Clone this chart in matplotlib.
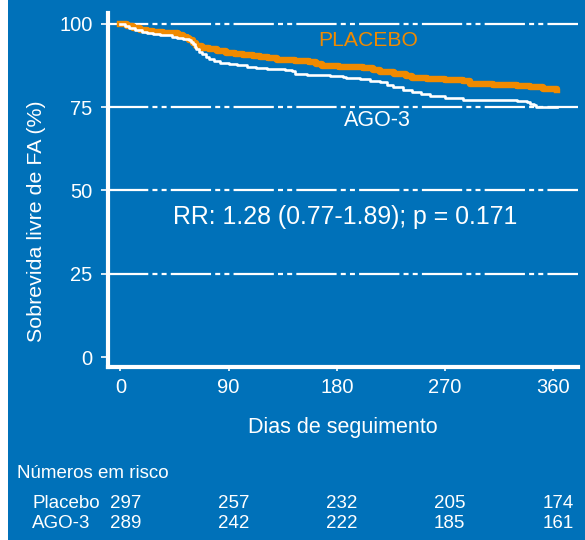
import matplotlib
matplotlib.use("Agg")
import matplotlib.pyplot as plt
from matplotlib.patches import Rectangle
from matplotlib.transforms import blended_transform_factory

plt.rcParams['font.family'] = ['Liberation Sans', 'DejaVu Sans']
plt.rcParams['lines.scale_dashes'] = False

BLUE = '#0071b9'
ORANGE = '#f08a00'

# curvas de Kaplan-Meier
placebo_days = [0, 5, 10, 16, 22, 27, 35, 41, 48, 52,
                55, 57, 60, 63, 68, 74, 80, 88, 95, 102,
                110, 116, 123, 130, 145, 157, 163, 168, 182, 195,
                202, 210, 216, 228, 238, 243, 255, 270, 285, 291,
                310, 330, 341, 352, 363]
placebo_surv = [100, 99.4, 98.8, 98.2, 97.9, 97.7, 97.4, 97.2, 96.8, 96.2,
                95.8, 95.2, 94.4, 93.4, 92.9, 92.4, 91.9, 91.4, 91.0, 90.6,
                90.4, 90.2, 89.7, 89.2, 88.9, 88.6, 88.0, 87.4, 87.2, 87.0,
                86.9, 86.3, 85.5, 85.0, 84.5, 83.8, 83.5, 83.2, 82.8, 82.0,
                81.8, 81.5, 81.0, 80.6, 80.3]

ago_days = [0, 4, 7, 12, 18, 22, 27, 33, 38, 43,
            47, 52, 57, 59, 60, 62, 63, 65, 68, 71,
            74, 78, 83, 90, 97, 105, 113, 122, 130, 137,
            143, 145, 155, 166, 174, 185, 188, 199, 208, 216,
            222, 227, 235, 243, 250, 258, 270, 285, 300, 330,
            338, 341, 344, 346, 363]
ago_surv = [100, 99.4, 98.9, 98.2, 97.6, 97.3, 96.9, 96.7, 96.6, 96.2,
            95.9, 95.5, 95.2, 94.6, 93.9, 93.2, 92.4, 91.6, 90.9, 90.1,
            89.4, 88.9, 88.4, 88.0, 87.6, 87.2, 86.9, 86.6, 86.4, 86.1,
            85.9, 84.9, 84.8, 84.6, 84.4, 84.2, 83.9, 83.6, 83.0, 82.5,
            81.8, 81.0, 80.3, 79.5, 79.0, 78.5, 77.8, 77.2, 77.1, 76.9,
            76.5, 76.1, 75.6, 75.1, 75.1]

x_ticks = [0, 90, 180, 270, 360]
y_ticks = [0, 25, 50, 75, 100]
grid_levels = [25, 50, 75, 100]

# numeros em risco
risk_labels = ['Placebo', 'AGO-3']
risk_placebo = [297, 257, 232, 205, 174]
risk_ago = [289, 242, 222, 185, 161]

fig = plt.figure(figsize=(5.85, 5.4), dpi=100)
fig.patch.set_facecolor('white')
fig.add_artist(Rectangle((8 / 585, 0), 1, 1, transform=fig.transFigure,
                         facecolor=BLUE, edgecolor='none', zorder=-10))

ax = fig.add_axes([108 / 585, 1 - 367 / 540, (578 - 108) / 585, (367 - 13) / 540])
ax.set_facecolor('none')

dash = (0, (29, 3, 3.6, 3, 3.6, 3))
for g in grid_levels:
    ax.axhline(g, color='white', lw=1.6, linestyle=dash, zorder=1)

ax.step(placebo_days, placebo_surv, where='post', color=ORANGE, lw=4.6, zorder=3)
ax.step(ago_days, ago_surv, where='post', color='white', lw=1.9, zorder=4)

ax.set_xlim(-10.4, 380.8)
ax.set_ylim(-3.0, 103.3)
ax.set_xticks(x_ticks)
ax.set_yticks(y_ticks)

for s in ['top', 'right']:
    ax.spines[s].set_visible(False)
for s in ['left', 'bottom']:
    ax.spines[s].set_color('white')
    ax.spines[s].set_linewidth(3)

ax.tick_params(axis='y', colors='white', direction='out', length=5, width=1.2,
               labelsize=14.5, pad=6)
ax.tick_params(axis='x', colors='white', direction='out', length=3, width=1.2,
               labelsize=14.5, pad=5)

ax.set_xlabel('Dias de seguimento', color='white', fontsize=15.5, labelpad=14)
fig.text(37 / 585, 1 - 221 / 540, 'Sobrevida livre de FA (%)', color='white',
         fontsize=15.4, rotation=90, ha='center', va='center')

fig.text(368 / 585, 1 - 41 / 540, 'PLACEBO', color=ORANGE, fontsize=15.2,
         ha='center', va='center')
fig.text(377 / 585, 1 - 120 / 540, 'AGO-3', color='white', fontsize=15.5,
         ha='center', va='center')
fig.text(345 / 585, 1 - 217 / 540, 'RR: 1.28 (0.77-1.89); p = 0.171', color='white',
         fontsize=17.9, ha='center', va='center')

# tabela de risco
fig.text(17 / 585, 1 - 473 / 540, 'Números em risco', color='white', fontsize=13.5,
         ha='left', va='center')
tr = blended_transform_factory(ax.transData, fig.transFigure)
for row, (lab, vals) in enumerate(zip(risk_labels, [risk_placebo, risk_ago])):
    yy = 1 - (503 + row * 20) / 540
    fig.text(32 / 585, yy, lab, color='white', fontsize=13.5, ha='left', va='center')
    for d, v in zip(x_ticks, vals):
        ax.text(d + 4, yy, str(v), color='white', fontsize=13.5, ha='center',
                va='center', transform=tr, clip_on=False)

fig.savefig('out.png', dpi=100, facecolor=fig.get_facecolor())
